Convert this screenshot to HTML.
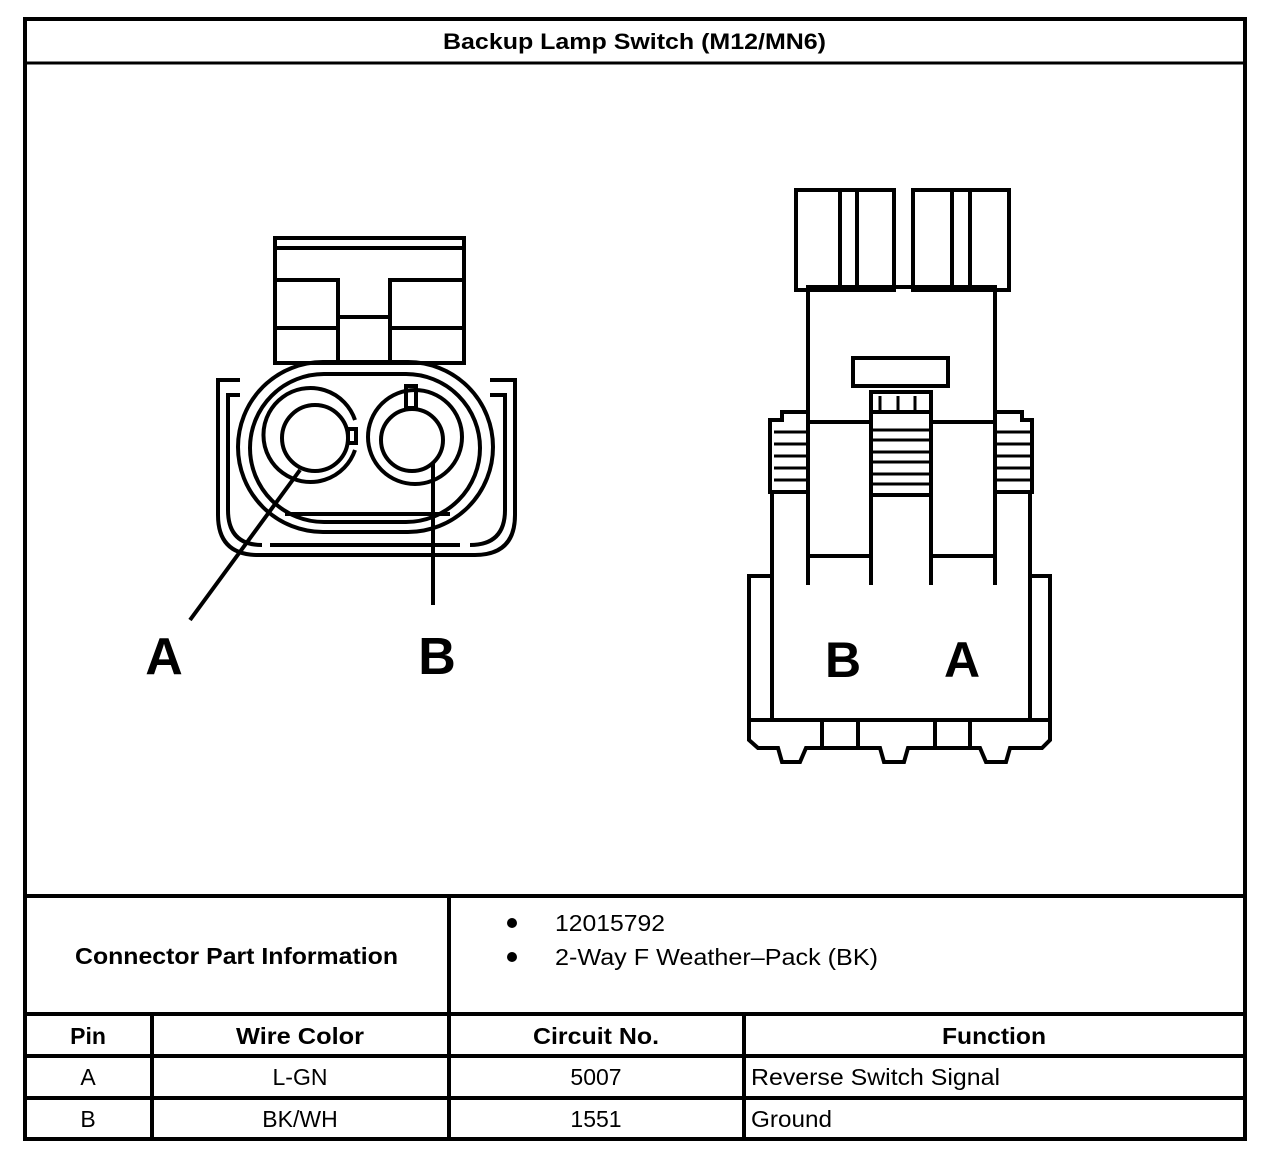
<!DOCTYPE html>
<html><head><style>
html,body{margin:0;padding:0;background:#fff}
svg{display:block}
text{font-family:"Liberation Sans",Arial,sans-serif;fill:#000}
</style></head><body>
<svg width="1280" height="1164" viewBox="0 0 1280 1164" xmlns="http://www.w3.org/2000/svg">
<g stroke="#000" stroke-width="4" fill="none">
<rect x="25" y="19" width="1220" height="1120"/>
<line x1="25" y1="63" x2="1245" y2="63" stroke-width="3"/>
<line x1="25" y1="896" x2="1245" y2="896"/>
<line x1="25" y1="1014" x2="1245" y2="1014"/>
<line x1="25" y1="1056" x2="1245" y2="1056"/>
<line x1="25" y1="1098" x2="1245" y2="1098"/>
<line x1="449" y1="896" x2="449" y2="1139"/>
<line x1="152" y1="1014" x2="152" y2="1139"/>
<line x1="744" y1="1014" x2="744" y2="1139"/>

<!-- LEFT CONNECTOR -->
<rect x="275" y="238" width="189" height="125"/>
<line x1="275" y1="248" x2="464" y2="248"/>
<polyline points="275,280 338,280 338,360"/>
<polyline points="464,280 390,280 390,360"/>
<line x1="338" y1="317" x2="390" y2="317"/>
<line x1="275" y1="328" x2="338" y2="328"/>
<line x1="390" y1="328" x2="464" y2="328"/>
<path d="M240,380 L218,380 L218,515 Q218,555 258,555 L475,555 Q515,555 515,515 L515,380 L490,380"/>
<path d="M240,395 L228,395 L228,510 Q228,545 262,545"/>
<path d="M490,395 L505,395 L505,510 Q505,545 470,545"/>
<line x1="270" y1="545" x2="460" y2="545"/>
<rect x="238" y="362" width="255" height="170" rx="85" ry="85"/>
<rect x="250" y="374" width="230" height="148" rx="74" ry="74"/>
<line x1="285" y1="514" x2="450" y2="514"/>
<path d="M355,450 A47,47 0 1 1 355,420"/>
<circle cx="315" cy="438" r="33"/>
<rect x="348" y="429" width="8" height="14"/>
<circle cx="415" cy="437" r="47"/>
<circle cx="412" cy="440" r="31"/>
<rect x="406" y="386" width="10" height="22"/>
<line x1="300" y1="470" x2="190" y2="620"/>
<line x1="433" y1="462" x2="433" y2="605"/>

<!-- RIGHT CONNECTOR -->
<rect x="796" y="190" width="98" height="100"/>
<rect x="913" y="190" width="96" height="100"/>
<line x1="840" y1="192" x2="840" y2="288"/>
<line x1="857" y1="192" x2="857" y2="288"/>
<line x1="952" y1="192" x2="952" y2="288"/>
<line x1="970" y1="192" x2="970" y2="288"/>
<path d="M808,585 L808,287 L995,287 L995,585"/>
<line x1="808" y1="422" x2="871" y2="422"/>
<line x1="931" y1="422" x2="995" y2="422"/>
<rect x="853" y="358" width="95" height="28"/>
<path d="M871,585 L871,392 L931,392 L931,585"/>
<line x1="880" y1="396" x2="880" y2="410" stroke-width="3"/>
<line x1="898" y1="396" x2="898" y2="410" stroke-width="3"/>
<line x1="915" y1="396" x2="915" y2="410" stroke-width="3"/>
<line x1="871" y1="412" x2="931" y2="412"/>
<g stroke-width="3">
<line x1="871" y1="430" x2="931" y2="430"/><line x1="871" y1="440" x2="931" y2="440"/>
<line x1="871" y1="452" x2="931" y2="452"/><line x1="871" y1="462" x2="931" y2="462"/>
<line x1="871" y1="474" x2="931" y2="474"/><line x1="871" y1="484" x2="931" y2="484"/>
</g>
<line x1="871" y1="495" x2="931" y2="495"/>
<line x1="808" y1="556" x2="871" y2="556"/>
<line x1="931" y1="556" x2="995" y2="556"/>
<path d="M808,412 L782,412 L782,420 L770,420 L770,492 L808,492"/>
<path d="M995,412 L1022,412 L1022,420 L1032,420 L1032,492 L995,492"/>
<g stroke-width="3">
<line x1="774" y1="432" x2="808" y2="432"/><line x1="774" y1="444" x2="808" y2="444"/>
<line x1="774" y1="456" x2="808" y2="456"/><line x1="774" y1="468" x2="808" y2="468"/>
<line x1="774" y1="480" x2="808" y2="480"/>
<line x1="995" y1="432" x2="1030" y2="432"/><line x1="995" y1="444" x2="1030" y2="444"/>
<line x1="995" y1="456" x2="1030" y2="456"/><line x1="995" y1="468" x2="1030" y2="468"/>
<line x1="995" y1="480" x2="1030" y2="480"/>
</g>
<path d="M772,492 L772,720 L1030,720 L1030,492"/>
<rect x="749" y="576" width="23" height="144"/>
<rect x="1030" y="576" width="20" height="144"/>
<path d="M749,720 L749,740 L758,748 L778,748 L782,762 L800,762 L806,748 L880,748 L884,762 L904,762 L908,748 L980,748 L986,762 L1006,762 L1010,748 L1042,748 L1050,740 L1050,720"/>
<line x1="822" y1="722" x2="822" y2="748"/>
<line x1="858" y1="722" x2="858" y2="748"/>
<line x1="935" y1="722" x2="935" y2="748"/>
<line x1="970" y1="722" x2="970" y2="748"/>
</g>

<text x="164" y="674" font-size="52" font-weight="bold" text-anchor="middle">A</text>
<text x="437" y="674" font-size="52" font-weight="bold" text-anchor="middle">B</text>
<text x="843" y="677" font-size="50" font-weight="bold" text-anchor="middle">B</text>
<text x="962" y="677" font-size="50" font-weight="bold" text-anchor="middle">A</text>

<text x="443" y="49" font-size="22" font-weight="bold" textLength="383" lengthAdjust="spacingAndGlyphs">Backup Lamp Switch (M12/MN6)</text>
<text x="75" y="964" font-size="23" font-weight="bold" textLength="323" lengthAdjust="spacingAndGlyphs">Connector Part Information</text>
<circle cx="512" cy="923" r="5" fill="#000"/>
<circle cx="512" cy="957" r="5" fill="#000"/>
<text x="555" y="931" font-size="23" textLength="110" lengthAdjust="spacingAndGlyphs">12015792</text>
<text x="555" y="965" font-size="23" textLength="323" lengthAdjust="spacingAndGlyphs">2-Way F Weather–Pack (BK)</text>
<text x="88" y="1044" font-size="23" font-weight="bold" text-anchor="middle">Pin</text>
<text x="300" y="1044" font-size="23" font-weight="bold" text-anchor="middle" textLength="128" lengthAdjust="spacingAndGlyphs">Wire Color</text>
<text x="596" y="1044" font-size="23" font-weight="bold" text-anchor="middle" textLength="126" lengthAdjust="spacingAndGlyphs">Circuit No.</text>
<text x="994" y="1044" font-size="23" font-weight="bold" text-anchor="middle" textLength="104" lengthAdjust="spacingAndGlyphs">Function</text>
<text x="88" y="1085" font-size="23" text-anchor="middle">A</text>
<text x="300" y="1085" font-size="23" text-anchor="middle">L-GN</text>
<text x="596" y="1085" font-size="23" text-anchor="middle">5007</text>
<text x="751" y="1085" font-size="23" textLength="249" lengthAdjust="spacingAndGlyphs">Reverse Switch Signal</text>
<text x="88" y="1127" font-size="23" text-anchor="middle">B</text>
<text x="300" y="1127" font-size="23" text-anchor="middle">BK/WH</text>
<text x="596" y="1127" font-size="23" text-anchor="middle">1551</text>
<text x="751" y="1127" font-size="23" textLength="81" lengthAdjust="spacingAndGlyphs">Ground</text>
</svg>
</body></html>
